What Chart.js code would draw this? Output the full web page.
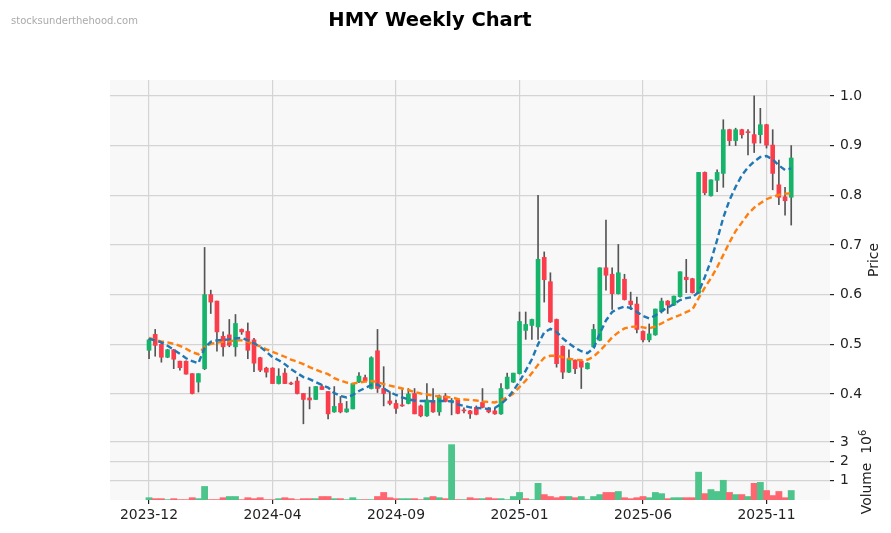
<!DOCTYPE html>
<html>
<head>
<meta charset="utf-8">
<title>HMY Weekly Chart</title>
<script src="https://cdn.jsdelivr.net/npm/chart.js@4.4.1/dist/chart.umd.min.js"></script>
<style>
  body { margin: 0; background: #fff; font-family: "DejaVu Sans", sans-serif; }
  #wrap { position: relative; width: 891px; height: 533px; overflow: hidden; }
  canvas { position: absolute; left: 0; top: 0; }
  .txt { position: absolute; white-space: nowrap; line-height: 1; }
  #title { left: 430px; top: 10px; transform: translateX(-50%); font-size: 19.5px; font-weight: bold; color: #000; }
  #mark { left: 11px; top: 16px; font-size: 10px; color: #aaa; }
  .ylab { font-size: 13.9px; color: #222; transform: translate(-50%, -50%) rotate(-90deg); }
  #priceLab { left: 874px; top: 260px; }
  #volLab { left: 866px; top: 472px; }
  #volLab sup { font-size: 10px; }
</style>
</head>
<body>
<div id="wrap">
  <canvas id="priceChart" width="891" height="533"></canvas>
  <canvas id="volumeChart" width="891" height="533"></canvas>
  <div class="txt" id="title">HMY Weekly Chart</div>
  <div class="txt" id="mark">stocksunderthehood.com</div>
  <div class="txt ylab" id="priceLab">Price</div>
  <div class="txt ylab" id="volLab">Volume&nbsp;&nbsp;10<sup>6</sup></div>
</div>
<script>
// weekly candles, one entry per week (index 0 = first week of 2023-12)
const opens = [
  0.488, 0.520, 0.500, 0.474, 0.489, 0.466, 0.466, 0.441, 0.424, 0.451,
  0.600, 0.587, 0.516, 0.519, 0.495, 0.530, 0.526, 0.509, 0.473, 0.452,
  0.452, 0.421, 0.442, 0.422, 0.426, 0.401, 0.392, 0.389, 0.415, 0.405,
  0.364, 0.381, 0.364, 0.370, 0.424, 0.433, 0.411, 0.487, 0.411, 0.386,
  0.381, 0.377, 0.381, 0.401, 0.376, 0.356, 0.387, 0.364, 0.396, 0.385,
  0.388, 0.367, 0.366, 0.373, 0.383, 0.371, 0.366, 0.360, 0.411, 0.424,
  0.441, 0.528, 0.538, 0.535, 0.675, 0.626, 0.550, 0.496, 0.444, 0.468,
  0.466, 0.451, 0.495, 0.508, 0.654, 0.641, 0.602, 0.631, 0.587, 0.581,
  0.526, 0.509, 0.519, 0.566, 0.587, 0.579, 0.596, 0.635, 0.632, 0.603,
  0.846, 0.799, 0.830, 0.844, 0.932, 0.910, 0.932, 0.927, 0.922, 0.922,
  0.942, 0.901, 0.821, 0.797, 0.796
];
const highs = [
  0.511, 0.530, 0.505, 0.490, 0.490, 0.466, 0.467, 0.441, 0.441, 0.695,
  0.609, 0.587, 0.525, 0.550, 0.560, 0.531, 0.543, 0.512, 0.474, 0.454,
  0.453, 0.451, 0.451, 0.424, 0.434, 0.401, 0.414, 0.415, 0.419, 0.405,
  0.415, 0.395, 0.385, 0.421, 0.443, 0.438, 0.475, 0.530, 0.455, 0.405,
  0.388, 0.409, 0.411, 0.411, 0.378, 0.421, 0.411, 0.398, 0.401, 0.391,
  0.389, 0.372, 0.367, 0.376, 0.411, 0.373, 0.372, 0.421, 0.442, 0.442,
  0.565, 0.565, 0.551, 0.800, 0.686, 0.644, 0.551, 0.497, 0.489, 0.469,
  0.467, 0.463, 0.540, 0.654, 0.750, 0.654, 0.701, 0.641, 0.605, 0.595,
  0.527, 0.541, 0.571, 0.593, 0.588, 0.597, 0.646, 0.671, 0.633, 0.846,
  0.847, 0.831, 0.851, 0.952, 0.933, 0.935, 0.933, 0.932, 1.000, 0.975,
  0.943, 0.932, 0.871, 0.816, 0.900
];
const lows = [
  0.471, 0.476, 0.464, 0.473, 0.451, 0.448, 0.440, 0.400, 0.404, 0.449,
  0.562, 0.486, 0.476, 0.495, 0.476, 0.520, 0.471, 0.445, 0.445, 0.434,
  0.421, 0.420, 0.421, 0.419, 0.400, 0.340, 0.370, 0.389, 0.409, 0.350,
  0.363, 0.362, 0.363, 0.370, 0.423, 0.425, 0.410, 0.403, 0.376, 0.378,
  0.361, 0.375, 0.380, 0.360, 0.354, 0.355, 0.363, 0.357, 0.384, 0.358,
  0.360, 0.362, 0.351, 0.358, 0.372, 0.362, 0.359, 0.359, 0.410, 0.423,
  0.440, 0.510, 0.510, 0.510, 0.585, 0.544, 0.454, 0.431, 0.443, 0.441,
  0.411, 0.450, 0.494, 0.507, 0.609, 0.570, 0.601, 0.589, 0.570, 0.523,
  0.505, 0.505, 0.518, 0.563, 0.562, 0.578, 0.595, 0.604, 0.603, 0.602,
  0.801, 0.798, 0.807, 0.816, 0.900, 0.900, 0.915, 0.881, 0.886, 0.905,
  0.895, 0.811, 0.781, 0.760, 0.740
];
const closes = [
  0.509, 0.498, 0.474, 0.489, 0.470, 0.453, 0.440, 0.401, 0.441, 0.600,
  0.585, 0.525, 0.495, 0.498, 0.542, 0.525, 0.488, 0.462, 0.448, 0.444,
  0.421, 0.436, 0.421, 0.420, 0.401, 0.389, 0.388, 0.415, 0.409, 0.360,
  0.375, 0.364, 0.370, 0.421, 0.436, 0.426, 0.473, 0.411, 0.401, 0.381,
  0.371, 0.376, 0.400, 0.360, 0.356, 0.388, 0.364, 0.396, 0.385, 0.386,
  0.361, 0.366, 0.360, 0.359, 0.373, 0.364, 0.360, 0.411, 0.434, 0.442,
  0.546, 0.540, 0.550, 0.671, 0.630, 0.545, 0.461, 0.444, 0.471, 0.451,
  0.454, 0.462, 0.530, 0.654, 0.639, 0.602, 0.644, 0.590, 0.580, 0.530,
  0.509, 0.521, 0.571, 0.587, 0.579, 0.597, 0.646, 0.630, 0.604, 0.846,
  0.805, 0.831, 0.846, 0.932, 0.910, 0.932, 0.922, 0.926, 0.905, 0.942,
  0.901, 0.844, 0.796, 0.789, 0.875
];
// volume in millions of shares
const volume = [
  0.12, 0.07, 0.07, 0.02, 0.07, 0.02, 0.02, 0.12, 0.07, 0.70,
  0.02, 0.02, 0.12, 0.18, 0.18, 0.02, 0.12, 0.07, 0.12, 0.02,
  0.02, 0.07, 0.12, 0.07, 0.02, 0.07, 0.07, 0.07, 0.18, 0.18,
  0.07, 0.07, 0.02, 0.12, 0.02, 0.02, 0.02, 0.18, 0.39, 0.12,
  0.07, 0.07, 0.07, 0.07, 0.02, 0.12, 0.18, 0.12, 0.07, 2.86,
  0.02, 0.02, 0.12, 0.07, 0.07, 0.12, 0.07, 0.07, 0.02, 0.18,
  0.39, 0.07, 0.02, 0.86, 0.28, 0.18, 0.12, 0.18, 0.18, 0.12,
  0.18, 0.02, 0.18, 0.28, 0.39, 0.39, 0.44, 0.12, 0.07, 0.12,
  0.18, 0.12, 0.39, 0.33, 0.07, 0.12, 0.12, 0.12, 0.12, 1.44,
  0.33, 0.54, 0.44, 1.02, 0.39, 0.28, 0.28, 0.18, 0.86, 0.91,
  0.49, 0.23, 0.44, 0.12, 0.49
];
// moving average lines as drawn (blue = fast, orange = slow)
const maFast = [
  0.511, 0.508, 0.504, 0.497, 0.489, 0.481, 0.472, 0.466, 0.462, 0.493,
  0.505, 0.508, 0.509, 0.510, 0.512, 0.513, 0.508, 0.502, 0.495, 0.485,
  0.474, 0.468, 0.460, 0.450, 0.442, 0.434, 0.430, 0.424, 0.418, 0.413,
  0.402, 0.396, 0.393, 0.398, 0.406, 0.412, 0.418, 0.419, 0.411, 0.404,
  0.398, 0.393, 0.389, 0.387, 0.386, 0.386, 0.385, 0.386, 0.386, 0.385,
  0.379, 0.376, 0.373, 0.372, 0.371, 0.370, 0.372, 0.380, 0.391, 0.407,
  0.425, 0.447, 0.470, 0.500, 0.524, 0.531, 0.525, 0.512, 0.502, 0.493,
  0.486, 0.482, 0.492, 0.522, 0.548, 0.565, 0.572, 0.576, 0.573, 0.565,
  0.557, 0.552, 0.558, 0.567, 0.574, 0.581, 0.589, 0.593, 0.595, 0.605,
  0.635, 0.668, 0.710, 0.755, 0.790, 0.817, 0.840, 0.856, 0.868, 0.877,
  0.879, 0.872, 0.860, 0.851, 0.854
];
const maSlow = [
  0.513, 0.509, 0.506, 0.504, 0.501, 0.497, 0.491, 0.484, 0.480, 0.495,
  0.501, 0.503, 0.505, 0.506, 0.508, 0.508, 0.505, 0.500, 0.496, 0.490,
  0.485, 0.480, 0.475, 0.469, 0.465, 0.460, 0.454, 0.449, 0.444, 0.440,
  0.432, 0.427, 0.423, 0.421, 0.423, 0.425, 0.426, 0.424, 0.420, 0.417,
  0.414, 0.411, 0.408, 0.404, 0.401, 0.399, 0.397, 0.395, 0.394, 0.393,
  0.390, 0.389, 0.388, 0.387, 0.385, 0.384, 0.383, 0.387, 0.393, 0.401,
  0.414, 0.427, 0.442, 0.459, 0.473, 0.477, 0.477, 0.474, 0.471, 0.469,
  0.468, 0.469, 0.475, 0.487, 0.500, 0.514, 0.524, 0.532, 0.535, 0.536,
  0.534, 0.532, 0.536, 0.542, 0.549, 0.554, 0.559, 0.565, 0.570, 0.593,
  0.614, 0.633, 0.655, 0.680, 0.705, 0.728, 0.745, 0.762, 0.775, 0.784,
  0.792, 0.797, 0.801, 0.803, 0.804
];
// x tick positions (week index) and their labels
const tickIndex = [0, 20, 40, 60, 80, 100];
const tickText = ["2023-12", "2024-04", "2024-09", "2025-01", "2025-06", "2025-11"];
const priceTicks = [0.4, 0.5, 0.6, 0.7, 0.8, 0.9, 1.0];
const volumeTicks = [1, 2, 3];

const UP = "#16b36b", DOWN = "#fb3c4b";
const VOL_UP = "#4cc48b", VOL_DOWN = "#ff6670";
const GRID = "#d4d4d4";
const FONT = { family: "'DejaVu Sans', sans-serif", size: 13.9 };
const X_MIN = -6.32, X_MAX = 110.28;

const idx = opens.map((_, i) => i);
const candleColors = idx.map(i => closes[i] >= opens[i] ? UP : DOWN);
const volColors = idx.map(i => {
  const prev = i === 0 ? opens[0] : closes[i - 1];
  return closes[i] >= prev ? VOL_UP : VOL_DOWN;
});

// light panel background
const panelBg = {
  id: "panelBg",
  beforeDraw(chart) {
    const { ctx, chartArea: a } = chart;
    ctx.save();
    ctx.fillStyle = "#f8f8f8";
    ctx.fillRect(a.left, a.top, a.right - a.left, a.bottom - a.top);
    ctx.restore();
  }
};

const setTicks = list => s => { s.ticks = list.map(v => ({ value: v })); };

new Chart(document.getElementById("priceChart"), {
  type: "bar",
  data: {
    datasets: [
      {
        type: "line",
        data: idx.map(i => ({ x: i, y: maFast[i] })),
        borderColor: "#1f77b4",
        borderWidth: 2.4,
        borderDash: [6, 3.5],
        pointRadius: 0,
        order: 0,
      },
      {
        type: "line",
        data: idx.map(i => ({ x: i, y: maSlow[i] })),
        borderColor: "#ff7f0e",
        borderWidth: 2.4,
        borderDash: [6, 3.5],
        pointRadius: 0,
        order: 0,
      },
      {
        data: idx.map(i => ({ x: i, y: [opens[i], closes[i]] })),
        backgroundColor: candleColors,
        barThickness: 4,
        minBarLength: 1,
        grouped: false,
        order: 1,
      },
      {
        data: idx.map(i => ({ x: i, y: [lows[i], highs[i]] })),
        backgroundColor: "#555",
        barThickness: 1,
        grouped: false,
        order: 2,
      },
    ],
  },
  options: {
    responsive: false,
    animation: false,
    layout: { padding: { left: 110, top: 80, right: 0, bottom: 93 } },
    plugins: { legend: { display: false }, tooltip: { enabled: false } },
    scales: {
      x: {
        type: "linear",
        min: X_MIN,
        max: X_MAX,
        offset: false,
        afterBuildTicks: setTicks(tickIndex),
        afterFit: s => { s.height = 0; },
        ticks: { display: false },
        grid: { color: GRID, lineWidth: 1.2, drawTicks: false, offset: false },
        border: { display: false },
      },
      y: {
        position: "right",
        min: 0.3074,
        max: 1.032,
        afterBuildTicks: setTicks(priceTicks),
        afterFit: s => { s.width = 61; },
        ticks: { callback: v => v.toFixed(1), color: "#222", font: FONT, padding: 6 },
        grid: { color: GRID, lineWidth: 1.2, tickColor: "#222", tickLength: 4 },
        border: { display: false },
      },
    },
  },
  plugins: [panelBg],
});

new Chart(document.getElementById("volumeChart"), {
  type: "bar",
  data: {
    datasets: [
      {
        data: idx.map(i => ({ x: i, y: volume[i] })),
        backgroundColor: volColors,
        barPercentage: 1,
        categoryPercentage: 1,
      },
    ],
  },
  options: {
    responsive: false,
    animation: false,
    layout: { padding: { left: 110, top: 440, right: 0, bottom: 0 } },
    plugins: { legend: { display: false }, tooltip: { enabled: false } },
    scales: {
      x: {
        type: "linear",
        min: X_MIN,
        max: X_MAX,
        offset: false,
        afterBuildTicks: setTicks(tickIndex),
        afterFit: s => { s.height = 33; },
        ticks: {
          callback: v => tickText[tickIndex.indexOf(v)],
          color: "#222",
          font: FONT,
          padding: 3,
          maxRotation: 0,
          autoSkip: false,
        },
        grid: { color: GRID, lineWidth: 1.2, tickColor: "#222", tickLength: 4, offset: false },
        border: { display: false },
      },
      y: {
        position: "right",
        min: 0,
        max: 3.1,
        afterBuildTicks: setTicks(volumeTicks),
        afterFit: s => { s.width = 61; },
        ticks: { callback: v => String(v), color: "#222", font: FONT, padding: 6 },
        grid: { color: GRID, lineWidth: 1.2, tickColor: "#222", tickLength: 4 },
        border: { display: false },
      },
    },
  },
  plugins: [panelBg],
});
</script>
</body>
</html>
